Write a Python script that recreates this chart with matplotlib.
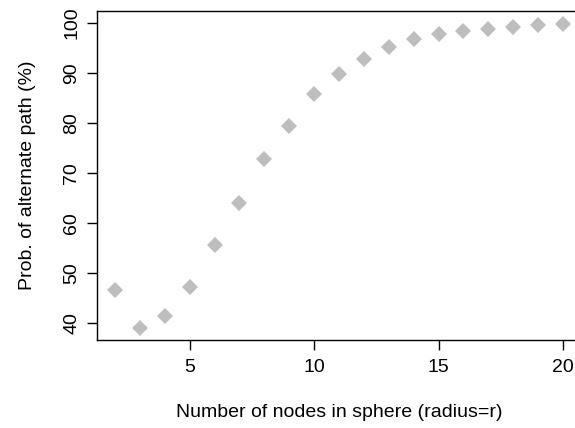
import matplotlib
matplotlib.use("Agg")
import matplotlib.pyplot as plt

plt.rcParams['font.family'] = ['Liberation Sans', 'DejaVu Sans']

nodes = [2, 3, 4, 5, 6, 7, 8, 9, 10, 11, 12, 13, 14, 15, 16, 17, 18, 19, 20]
prob = [46.6, 39.0, 41.4, 47.2, 55.6, 63.9, 72.9, 79.4, 85.9, 89.9,
        92.9, 95.3, 96.9, 97.9, 98.5, 98.8, 99.3, 99.7, 99.9]

fig = plt.figure(figsize=(5.75, 4.28), dpi=100)
ax = fig.add_axes([97/575, 1 - 340/428, 484/575, 329/428])
ax.plot(nodes, prob, linestyle='none', marker='D', markersize=8,
        color='#bebebe', markeredgewidth=0)

ax.set_xlim(1.28, 20.72)
ax.set_ylim(36.56, 102.44)
ax.set_xticks([5, 10, 15, 20])
ax.set_yticks([40, 50, 60, 70, 80, 90, 100])
for lab in ax.get_yticklabels():
    lab.set_rotation(90)
    lab.set_va('center')
ax.tick_params(labelsize=14, length=7, width=1, direction='out', pad=7)
ax.tick_params(axis='y', pad=5)
for s in ax.spines.values():
    s.set_linewidth(1)

ax.set_xlabel('Number of nodes in sphere (radius=r)', fontsize=14, labelpad=20)
ax.set_ylabel('Prob. of alternate path (%)', fontsize=14, labelpad=20)

fig.savefig('out.png', dpi=100)
